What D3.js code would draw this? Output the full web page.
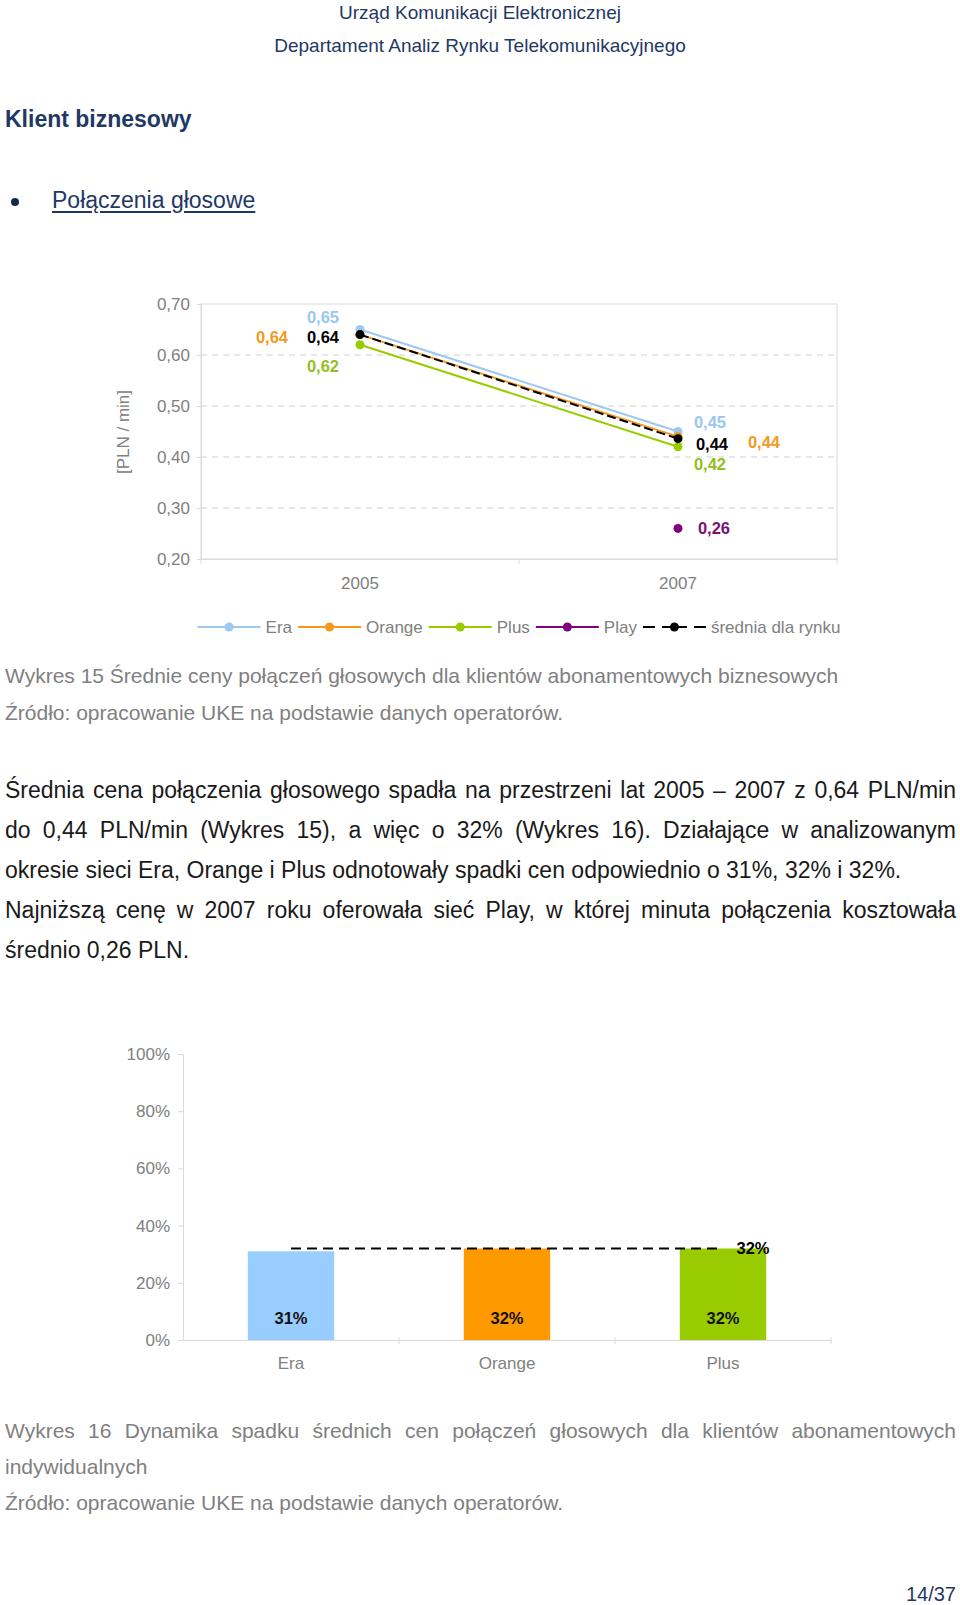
<!DOCTYPE html>
<html lang="pl">
<head>
<meta charset="utf-8">
<script src="https://cdn.jsdelivr.net/npm/d3@7"></script>
<style>
  body { margin: 0; background: #fff; font-family: "Liberation Sans", Arial, sans-serif; }
  #page { position: relative; width: 960px; height: 1605px; overflow: hidden; background: #fff; }
  .ln { position: absolute; white-space: nowrap; }
  .just { text-align: justify; text-align-last: justify; white-space: normal; }
  svg { position: absolute; left: 0; top: 0; }
  svg text { font-family: "Liberation Sans", Arial, sans-serif; }
</style>
</head>
<body>
<div id="page"></div>
<script>
// Wykres 15 - średnie ceny [PLN / min]
const years = ["2005", "2007"];
const seriesNames = ["Era", "Orange", "Plus", "Play", "średnia dla rynku"];
const eraPrices = [0.65, 0.45];
const orangePrices = [0.64, 0.44];
const plusPrices = [0.62, 0.42];
const playPrices = [null, 0.26];
const avgPrices = [0.64, 0.436];
const priceTicks = [0.2, 0.3, 0.4, 0.5, 0.6, 0.7];

// Wykres 16 - dynamika spadku
const dropCategories = ["Era", "Orange", "Plus"];
const dropValues = [0.31, 0.32, 0.32];
const dropAverage = 0.32;
const pctTicks = [0, 0.2, 0.4, 0.6, 0.8, 1];

const paragraph = [
  "Średnia cena połączenia głosowego spadła na przestrzeni lat 2005 – 2007 z 0,64 PLN/min",
  "do 0,44 PLN/min (Wykres 15), a więc o 32% (Wykres 16). Działające w analizowanym",
  "okresie sieci Era, Orange i Plus odnotowały spadki cen odpowiednio o 31%, 32% i 32%.",
  "Najniższą cenę w 2007 roku oferowała sieć Play, w której minuta połączenia kosztowała",
  "średnio 0,26 PLN."
];
const justifiedLines = [true, true, false, true, false];

const navy = "#1F3864";
const gray = "#808080";
const pl = d3.formatLocale({decimal: ",", thousands: " ", grouping: [3], currency: ["", " zł"]});
const fmtPrice = pl.format(".2f");
const fmtPct = d3.format(".0%");

const page = d3.select("#page");

// html text line, cy = visual centre of the line
function textLine(str, cy, o = {}) {
  const size = o.size || 23, lh = o.lh || 40;
  const div = page.append("div")
      .attr("class", "ln" + (o.justify ? " just" : ""))
      .style("left", (o.left ?? 5) + "px")
      .style("width", (o.width ?? 951) + "px")
      .style("top", (cy - lh / 2) + "px")
      .style("height", lh + "px")
      .style("line-height", lh + "px")
      .style("font-size", size + "px")
      .style("color", o.color || "#1a1a1a")
      .style("font-weight", o.weight || "normal")
      .style("text-align", o.align || null)
      .text(str);
  if (o.justify) div.style("text-align", "justify");
  if (o.underline) div.style("text-decoration", "underline").style("text-underline-offset", "3px");
  return div;
}

// naglowek
textLine("Urząd Komunikacji Elektronicznej", 13, {size: 19, color: navy, align: "center", left: 0, width: 960, lh: 24});
textLine("Departament Analiz Rynku Telekomunikacyjnego", 46, {size: 19, color: navy, align: "center", left: 0, width: 960, lh: 24});
textLine("Klient biznesowy", 119, {size: 23, color: navy, weight: "bold"});
textLine("Połączenia głosowe", 200, {size: 23, color: navy, left: 52, width: 400, underline: true});

// captions / paragraph
textLine("Wykres 15 Średnie ceny połączeń głosowych dla klientów abonamentowych biznesowych", 676, {size: 21, color: gray});
textLine("Źródło: opracowanie UKE na podstawie danych operatorów.", 713, {size: 21, color: gray});
paragraph.forEach((s, i) => textLine(s, 790 + i * 40, {size: 23, justify: justifiedLines[i]}));
textLine("Wykres 16 Dynamika spadku średnich cen połączeń głosowych dla klientów abonamentowych", 1431, {size: 21, color: gray, justify: true});
textLine("indywidualnych", 1467, {size: 21, color: gray});
textLine("Źródło: opracowanie UKE na podstawie danych operatorów.", 1503, {size: 21, color: gray});
textLine("14/37", 1594, {size: 20, color: navy, align: "right", left: 800, width: 156});

const svg = page.append("svg").attr("width", 960).attr("height", 1605);

// bullet
svg.append("circle").attr("cx", 15).attr("cy", 202).attr("r", 4).attr("fill", "#17284d");

// ---------- Wykres 15 ----------
const lc = {left: 201, right: 837, top: 304, bottom: 559};
const x = d3.scaleBand().domain(years).range([lc.left, lc.right]);
const y = d3.scaleLinear().domain([0.2, 0.7]).range([lc.bottom, lc.top]);
const cx = d => x(d) + x.bandwidth() / 2;

const series = [
  {name: "Era", values: eraPrices, color: "#9DC8F2", text: "#99C7F2"},
  {name: "Orange", values: orangePrices, color: "#F7981D", text: "#F39A1F"},
  {name: "Plus", values: plusPrices, color: "#99CC00", text: "#93C01F"},
  {name: "Play", values: playPrices, color: "#800080", text: "#7A1075"},
  {name: "średnia dla rynku", values: avgPrices, color: "#000", text: "#000", dash: "9,4", legendDash: "12,7,25,7,12"}
];
// label offsets [dx, dy] per year
const labelOffsets = {
  "Era": [[-37, -12], [32, -9]],
  "Orange": [[-88, 3], [86, 6]],
  "Plus": [[-37, 21], [32, 17]],
  "Play": [null, [36, 0]],
  "średnia dla rynku": [[-37, 3], [34, 6]]
};

const g1 = svg.append("g");

// grid
g1.append("g")
  .selectAll("line")
  .data(priceTicks.filter(t => t > 0.2 && t < 0.7))
  .join("line")
    .attr("x1", lc.left).attr("x2", lc.right)
    .attr("y1", d => y(d)).attr("y2", d => y(d))
    .attr("stroke", "#D0D0D0").attr("stroke-dasharray", "6,5");
g1.append("rect")
    .attr("x", lc.left).attr("y", lc.top)
    .attr("width", lc.right - lc.left).attr("height", lc.bottom - lc.top)
    .attr("fill", "none").attr("stroke", "#DADADA");

// y axis
const yAxis = g1.append("g")
    .attr("transform", `translate(${lc.left},0)`)
    .call(d3.axisLeft(y).tickValues(priceTicks).tickFormat(fmtPrice).tickSize(4).tickPadding(7));
yAxis.select(".domain").attr("stroke", "#DADADA");
yAxis.selectAll(".tick line").attr("stroke", "#DADADA");
yAxis.selectAll("text").attr("fill", gray).attr("font-size", 17).attr("font-family", null);

// x axis
const xAxis = g1.append("g")
    .attr("transform", `translate(0,${lc.bottom})`)
    .call(d3.axisBottom(x).tickSize(0).tickPadding(18));
xAxis.select(".domain").attr("stroke", "#DADADA");
xAxis.selectAll("text").attr("fill", gray).attr("font-size", 17).attr("font-family", null);
g1.append("g").selectAll("line")
  .data([lc.left, ...years.map(d => x(d) + x.bandwidth())])
  .join("line")
    .attr("x1", d => d).attr("x2", d => d)
    .attr("y1", lc.bottom).attr("y2", lc.bottom + 5)
    .attr("stroke", "#DADADA");

g1.append("text")
    .attr("transform", `translate(123,432) rotate(-90)`)
    .attr("text-anchor", "middle").attr("dy", "0.35em")
    .attr("fill", gray).attr("font-size", 17)
    .text("[PLN / min]");

const line = d3.line()
    .defined(d => d.v != null)
    .x(d => cx(d.year))
    .y(d => y(d.v));

series.forEach(s => {
  const pts = years.map((yr, i) => ({year: yr, v: s.values[i]}));
  g1.append("path")
      .datum(pts)
      .attr("fill", "none")
      .attr("stroke", s.color)
      .attr("stroke-width", 2)
      .attr("stroke-dasharray", s.dash || null)
      .attr("d", line);
  g1.append("g").selectAll("circle")
    .data(pts.filter(d => d.v != null))
    .join("circle")
      .attr("cx", d => cx(d.year))
      .attr("cy", d => y(d.v))
      .attr("r", 4.5)
      .attr("fill", s.color);
});

series.forEach(s => {
  years.forEach((yr, i) => {
    const v = s.values[i], off = labelOffsets[s.name][i];
    if (v == null || !off) return;
    g1.append("text")
        .attr("x", cx(yr) + off[0])
        .attr("y", y(v) + off[1])
        .attr("dy", "0.35em")
        .attr("text-anchor", "middle")
        .attr("font-size", 16.5)
        .attr("font-weight", "bold")
        .attr("fill", s.text)
        .text(fmtPrice(v));
  });
});

// legend
const legend = svg.append("g").attr("transform", "translate(0,627)");
let lx = 0;
series.forEach(s => {
  const it = legend.append("g").attr("transform", `translate(${lx},0)`);
  it.append("line").attr("x1", 0).attr("x2", 63)
      .attr("stroke", s.color).attr("stroke-width", 2)
      .attr("stroke-dasharray", s.legendDash || null);
  it.append("circle").attr("cx", 31.5).attr("r", 4.5).attr("fill", s.color);
  const t = it.append("text").attr("x", 68).attr("dy", "0.35em")
      .attr("font-size", 17).attr("fill", gray).text(s.name);
  lx += 68 + t.node().getComputedTextLength() + 6;
});
const legendWidth = lx - 6;
legend.attr("transform", `translate(${(lc.left + lc.right) / 2 - legendWidth / 2},627)`);

// ---------- Wykres 16 ----------
const bc = {left: 183, right: 831, top: 1054, bottom: 1340};
const xb = d3.scaleBand().domain(dropCategories).range([bc.left, bc.right]);
const yb = d3.scaleLinear().domain([0, 1]).range([bc.bottom, bc.top]);
const barColors = {"Era": "#99CCFF", "Orange": "#FF9900", "Plus": "#99CC00"};
const bw = xb.bandwidth() * 0.4;
const bcx = d => xb(d) + xb.bandwidth() / 2;

const g2 = svg.append("g");
const ybAxis = g2.append("g")
    .attr("transform", `translate(${bc.left},0)`)
    .call(d3.axisLeft(yb).tickValues(pctTicks).tickFormat(fmtPct).tickSize(5).tickPadding(8));
ybAxis.select(".domain").attr("stroke", "#DADADA");
ybAxis.selectAll(".tick line").attr("stroke", "#DADADA");
ybAxis.selectAll("text").attr("fill", gray).attr("font-size", 17).attr("font-family", null);

const xbAxis = g2.append("g")
    .attr("transform", `translate(0,${bc.bottom})`)
    .call(d3.axisBottom(xb).tickSize(0).tickPadding(17));
xbAxis.select(".domain").attr("stroke", "#DADADA");
xbAxis.selectAll("text").attr("fill", gray).attr("font-size", 17).attr("font-family", null);
g2.append("g").selectAll("line")
  .data(dropCategories.map(d => xb(d) + xb.bandwidth()))
  .join("line")
    .attr("x1", d => d).attr("x2", d => d)
    .attr("y1", bc.bottom - 3).attr("y2", bc.bottom + 4)
    .attr("stroke", "#DADADA");

g2.append("g").selectAll("rect")
  .data(dropCategories.map((c, i) => ({c, v: dropValues[i]})))
  .join("rect")
    .attr("x", d => bcx(d.c) - bw / 2)
    .attr("y", d => yb(d.v))
    .attr("width", bw)
    .attr("height", d => yb(0) - yb(d.v))
    .attr("fill", d => barColors[d.c]);

g2.append("line")
    .attr("x1", bcx(dropCategories[0]))
    .attr("x2", bcx(dropCategories[dropCategories.length - 1]))
    .attr("y1", yb(dropAverage)).attr("y2", yb(dropAverage))
    .attr("stroke", "#000").attr("stroke-width", 2)
    .attr("stroke-dasharray", "10,6");
g2.append("text")
    .attr("x", bcx(dropCategories[dropCategories.length - 1]) + 30)
    .attr("y", yb(dropAverage))
    .attr("dy", "0.35em").attr("text-anchor", "middle")
    .attr("font-size", 16.5).attr("font-weight", "bold").attr("fill", "#000")
    .text(fmtPct(dropAverage));

g2.append("g").selectAll("text")
  .data(dropCategories.map((c, i) => ({c, v: dropValues[i]})))
  .join("text")
    .attr("x", d => bcx(d.c))
    .attr("y", yb(0) - 22)
    .attr("dy", "0.35em").attr("text-anchor", "middle")
    .attr("font-size", 16.5).attr("font-weight", "bold").attr("fill", "#111")
    .text(d => fmtPct(d.v));
</script>
</body>
</html>
